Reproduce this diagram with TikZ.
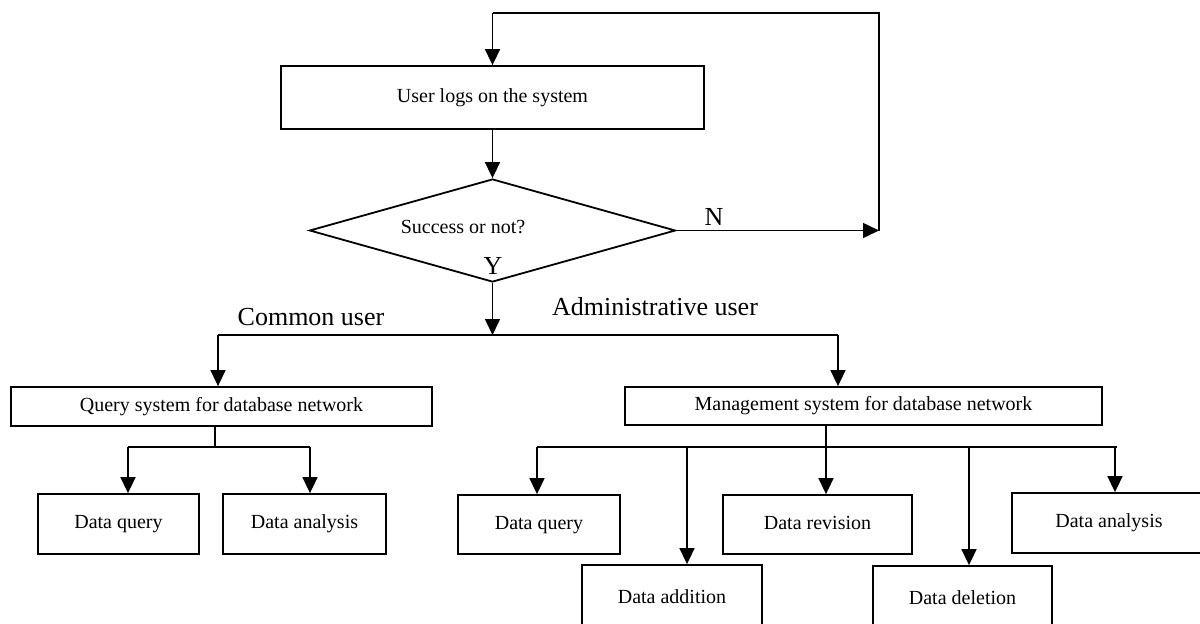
\documentclass[tikz,border=0pt]{standalone}
\usepackage{fontspec}
\setmainfont{Liberation Serif}
\usetikzlibrary{arrows.meta,shapes.geometric}
\tikzset{
  ln/.style={line width=1.6pt},
  arr/.style={line width=1.6pt,-{Triangle[width=15pt,length=16pt]}},
  box/.style={draw,line width=1.8pt,inner sep=0pt,text height=14pt,text depth=5pt,font={\fontsize{20}{24}\selectfont}},
  lbl/.style={inner sep=0pt,font={\fontsize{26}{30}\selectfont}},
  txt/.style={inner sep=0pt,font={\fontsize{20}{24}\selectfont}}
}
\begin{document}
\begin{tikzpicture}[x=1pt,y=-1pt]
\useasboundingbox (0,0) rectangle (1200,624);
% top part
\node[box,minimum width=423pt,minimum height=63pt] (login) at (492.5,97.5) {User logs on the system};
\node[draw,line width=1.8pt,diamond,inner sep=0pt,minimum width=366pt,minimum height=103pt] (dec) at (492.5,230.5) {};
\node[txt] (dtext) at (463,227) {Success or not?};
\node[lbl] (ylab) at (493,266) {Y};
\node[lbl] (nlab) at (714,217) {N};
\coordinate (rt) at (879,13);
\coordinate (lt) at (492.5,13);
\coordinate (rn) at (879,230.5);
\draw[arr] (dec.east) -- (rn);
\draw[ln] (rn) -- (rt) -- (lt);
\draw[arr] (lt) -- (login.north);
\draw[arr] (login.south) -- (dec.north);
% split
\coordinate (jm) at (492.5,335);
\coordinate (jl) at (218,335);
\coordinate (jr) at (838,335);
\draw[arr] (dec.south) -- (jm);
\draw[ln] (jl) -- (jr);
\node[lbl] (cu) at (311,317) {Common user};
\node[lbl] (au) at (655,307) {Administrative user};
\node[box,minimum width=421pt,minimum height=39pt] (qs) at (221.5,406.5) {Query system for database network};
\node[box,minimum width=477pt,minimum height=38pt] (ms) at (863.5,406) {Management system for database network};
\draw[arr] (jl) -- (jl |- qs.north);
\draw[arr] (jr) -- (jr |- ms.north);
% common user branch
\node[box,minimum width=161pt,minimum height=60pt] (dq1) at (118.5,524) {Data query};
\node[box,minimum width=163pt,minimum height=60pt] (da1) at (304.5,524) {Data analysis};
\coordinate (qstem) at (215,447);
\coordinate (ql) at (128,447);
\coordinate (qr) at (310,447);
\draw[ln] (qs.south -| qstem) -- (qstem);
\draw[ln] (ql) -- (qr);
\draw[arr] (ql) -- (ql |- dq1.north);
\draw[arr] (qr) -- (qr |- da1.north);
% admin branch
\node[box,minimum width=162pt,minimum height=59pt] (dq2) at (539,524.5) {Data query};
\node[box,minimum width=180pt,minimum height=68pt] (dad) at (672,599) {Data addition};
\node[box,minimum width=189pt,minimum height=59pt] (drv) at (817.5,524.5) {Data revision};
\node[box,minimum width=179pt,minimum height=68pt] (ddl) at (962.5,600) {Data deletion};
\node[box,minimum width=194pt,minimum height=60pt] (da2) at (1109,523) {Data analysis};
\coordinate (mstem) at (826,447);
\coordinate (m1) at (537,447);
\coordinate (m2) at (687,447);
\coordinate (m4) at (969,447);
\coordinate (m5) at (1117,447);
\coordinate (m5a) at (1115,447);
\draw[ln] (ms.south -| mstem) -- (mstem);
\draw[ln] (m1) -- (m5);
\draw[arr] (m1) -- (m1 |- dq2.north);
\draw[arr] (m2) -- (m2 |- dad.north);
\draw[arr] (mstem) -- (mstem |- drv.north);
\draw[arr] (m4) -- (m4 |- ddl.north);
\draw[arr] (m5a) -- (m5a |- da2.north);
\end{tikzpicture}
\end{document}
